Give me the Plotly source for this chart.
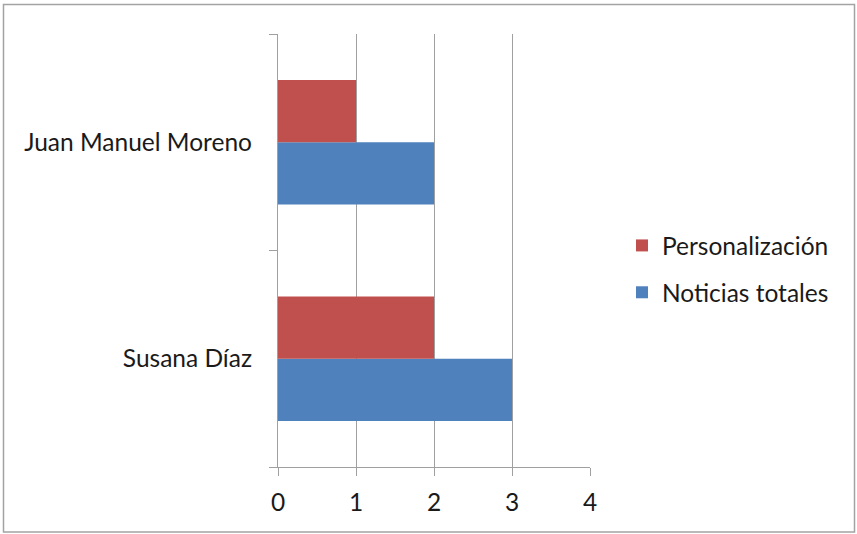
import plotly.graph_objects as go

# Category order: first entry is drawn at the bottom
candidates = ["Susana Díaz", "Juan Manuel Moreno"]
noticias_totales = [3, 2]
personalizacion = [2, 1]

series_names = ["Noticias totales", "Personalización"]
series_colors = ["#4F81BD", "#C0504D"]
legend_ranks = [2, 1]

W, H = 857, 534
L, R, T, B = 278, 267, 34, 67
plot_w = W - L - R
plot_h = H - T - B

FONT = "Lato"
FONT_SIZE = 24.5
TEXT_COLOR = "#1A1A1A"
AXIS_GRAY = "#A0A0A0"

fig = go.Figure()
for name, vals, color, rank in zip(series_names, [noticias_totales, personalizacion],
                                   series_colors, legend_ranks):
    fig.add_trace(go.Bar(
        y=candidates, x=vals, name=name, orientation="h",
        marker=dict(color=color, line=dict(width=0)),
        legendgroup=name, legendrank=rank,
    ))

def px_to_paper_x(px):
    return (px - L) / plot_w

def px_to_paper_y(py):
    return (H - B - py) / plot_h

# Outer chart frame
fig.add_shape(
    type="rect", xref="paper", yref="paper",
    x0=px_to_paper_x(3.5), x1=px_to_paper_x(854.5),
    y0=px_to_paper_y(532), y1=px_to_paper_y(4.5),
    line=dict(color="#A3A3A3", width=1.5), fillcolor="rgba(0,0,0,0)",
    layer="below",
)

fig.update_layout(
    width=W, height=H,
    margin=dict(l=L, r=R, t=T, b=B, autoexpand=False),
    paper_bgcolor="white", plot_bgcolor="white",
    barmode="group", bargap=0.426, bargroupgap=0,
    font=dict(family=FONT, size=FONT_SIZE, color=TEXT_COLOR),
    showlegend=True,
    legend=dict(
        x=px_to_paper_x(622), y=px_to_paper_y(269),
        xanchor="left", yanchor="middle",
        traceorder="grouped", tracegroupgap=12,
        font=dict(family=FONT, size=FONT_SIZE, color=TEXT_COLOR),
        itemwidth=30,
        bgcolor="rgba(0,0,0,0)",
    ),
    xaxis=dict(
        range=[0, 4], dtick=1, tick0=0,
        showgrid=True, gridcolor=AXIS_GRAY, gridwidth=1.2,
        showline=True, linecolor=AXIS_GRAY, linewidth=1.2,
        ticks="outside", ticklen=8, tickcolor=AXIS_GRAY, tickwidth=1.2,
        zeroline=False, fixedrange=True,
        ticklabelstandoff=5,
    ),
    yaxis=dict(
        range=[-0.5, 1.5],
        showgrid=False,
        showline=True, linecolor=AXIS_GRAY, linewidth=1.2,
        ticks="outside", ticklen=8, tickcolor=AXIS_GRAY, tickwidth=1.2,
        tickson="boundaries",
        zeroline=False, fixedrange=True,
        ticklabelstandoff=20,
    ),
)

fig.write_html("out.html")
